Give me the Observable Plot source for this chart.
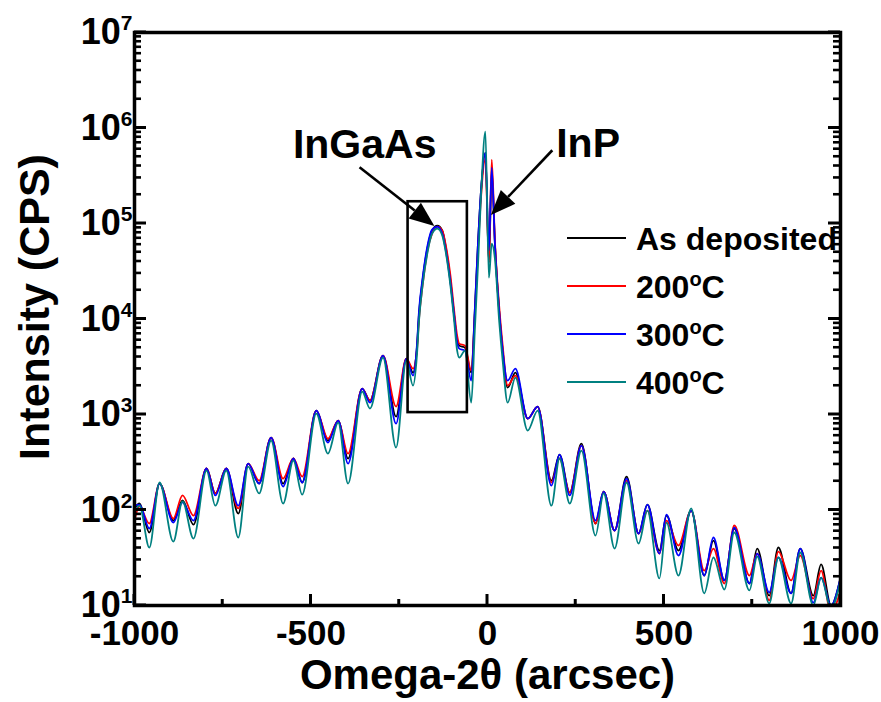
<!DOCTYPE html>
<html><head><meta charset="utf-8">
<script src="https://cdn.jsdelivr.net/npm/d3@7"></script>
<script src="https://cdn.jsdelivr.net/npm/@observablehq/plot@0.6"></script>
<style>
body{margin:0;background:#fff;}
#chart{position:relative;width:881px;height:702px;}
</style>
</head><body><div id="chart"></div>
<script>
// ---- data ----
const xArcsec = [-1000,-986,-958,-929,-890,-864,-833,-796,-771,-740,-706,-678,-647,-613,-579,-550,-525,-485,-452,-423,-395,-355,-333,-296,-259,-230,-211,-200,-194,-184,-170,-157,-142,-128,-118,-105,-95,-86,-80,-64,-46,-36,-27,-19,-6,4,12,21,33,43,57,79,114,142,181,204,233,266,306,329,360,394,428,453,487,507,541,577,614,640,671,699,742,764,798,824,860,886,923,945,973,1000];
const asDeposited = [104,117,58.1,189,77.5,126,70.4,272,149,272,91.8,306,189,573,189,346,194,1099,533,864,346,1867,1398,4134,951,3846,2745,5013,11400,25200,55800,84100,94800,84100,55800,25200,11400,5934,5262,5013,2745,12200,61500,205000,551000,38900,357000,61500,12200,4665,1912,2745,906,1210,203,380,152,496,72.2,156,60.9,224,56.7,114,37.6,87.5,37.6,98.7,20.6,47.9,18.3,64.0,17.0,39.5,12.7,40.5,13.4,39.5,12.7,26.9,10,19.6];
const annealed200 = [77.5,109,72.2,189,81.4,142,87.5,272,149,272,104,306,203,573,213,346,224,1099,559,864,390,1867,1398,4134,1210,3846,3022,4665,10050,22300,51900,78200,92600,84100,58600,28430,12790,6694,5521,5262,2880,10800,51900,173000,477000,38900,465000,66100,13740,5262,2007,2553,906,1210,194,346,152,473,72.2,156,60.9,203,56.7,98.7,35.0,77.5,42.5,98.7,23.2,39.5,17.0,68.8,20.6,35.0,11.3,36.7,18.3,33.4,11.8,23.2,8.47,14.4];
const annealed300 = [111,114,64.0,189,73.9,120,77.5,272,142,272,111,306,189,573,176,346,194,1099,508,864,306,1867,1332,4134,803,3846,2553,5262,12200,26450,58600,86100,92600,78200,51900,24010,11400,5655,4894,4665,2264,12200,61500,205000,551000,51900,384000,61500,12200,4665,2264,3022,906,1210,180,380,142,473,77.5,156,60.9,213,56.7,114,35.0,89.6,33.4,98.7,20.6,51.5,18.3,65.5,17.0,35.0,13.7,31.8,13.4,39.5,10.7,19.6,10,19.6];
const annealed400 = [94.0,111,40.5,194,46.7,123,50.2,259,111,259,51.5,285,149,533,117,329,145,1022,390,823,189,1737,1153,3940,450,3665,2007,4134,9610,22300,49500,78200,88200,74500,49500,22300,10050,4665,3940,4665,1332,7552,36170,173000,914000,27100,61500,42800,9610,3665,1332,2434,679,1099,111,346,117,419,54.0,149,39.5,194,44.6,98.7,19.2,73.9,20.6,104,13.4,31.8,14.7,58.1,14.4,32.6,10.5,31.8,10.5,35.9,10,19.6,9.3,18.3];

const seriesNames = ["As deposited", "200°C", "300°C", "400°C"];
const seriesColors = ["#000000", "#ff0000", "#0000ff", "#008080"];
const seriesValues = [asDeposited, annealed200, annealed300, annealed400];

const yMajorTicks = [1e1, 1e2, 1e3, 1e4, 1e5, 1e6, 1e7];
const yMinorTicks = [];
for (let e = 1; e < 7; e++) for (let k = 2; k <= 9; k++) yMinorTicks.push(k * Math.pow(10, e));
const xMajorTicks = [-1000, -500, 0, 500, 1000];
const xMinorTicks = [-750, -250, 250, 750];

const xTitle = "Omega-2\u03b8 (arcsec)";
const yTitle = "Intensity (CPS)";

// annotations (data coordinates)
const annotationText = ["InGaAs", "InP"];
const annotationX = [-348, 285];
const annotationY = [6.7e5, 6.8e5];
const arrowFromX = [-361, 185];
const arrowFromY = [3.84e5, 5.78e5];
const arrowToX = [-149, 11];
const arrowToY = [9.3e4, 1.21e5];
const boxX1 = [-225], boxX2 = [-57], boxY1 = [1047], boxY2 = [1.69e5];

// ---- build tables ----
const rows = seriesNames.flatMap((name, s) => xArcsec.map((x, i) => ({series: name, x, y: seriesValues[s][i]})));
const labels = annotationText.map((t, i) => ({t, x: annotationX[i], y: annotationY[i]}));
const boxes = boxX1.map((_, i) => ({x1: boxX1[i], x2: boxX2[i], y1: boxY1[i], y2: boxY2[i]}));

const arrowMark = (index, scales) => {
  const g = d3.create("svg:g").attr("aria-label", "arrows");
  annotationText.forEach((_, i) => {
    const x1 = scales.x(arrowFromX[i]), y1 = scales.y(arrowFromY[i]);
    const x2 = scales.x(arrowToX[i]), y2 = scales.y(arrowToY[i]);
    const a = Math.atan2(y2 - y1, x2 - x1);
    const L = 25, W = 10;
    const bx = x2 - L * Math.cos(a), by = y2 - L * Math.sin(a);
    const px = -Math.sin(a) * W, py = Math.cos(a) * W;
    g.append("line").attr("x1", x1).attr("y1", y1).attr("x2", bx).attr("y2", by)
      .attr("stroke", "black").attr("stroke-width", 2.6);
    g.append("path").attr("d", `M${x2},${y2}L${bx + px},${by + py}L${bx - px},${by - py}Z`).attr("fill", "black");
  });
  return g.node();
};

// inward tick marks on left, right and bottom edges, placed with the plot's scales
const tickMark = (index, scales) => {
  const g = d3.create("svg:g").attr("aria-label", "inward ticks");
  const left = scales.x(-1000), right = scales.x(1000), bottom = scales.y(10);
  const line = (x1, y1, x2, y2, w) => g.append("line")
    .attr("x1", x1).attr("y1", y1).attr("x2", x2).attr("y2", y2)
    .attr("stroke", "black").attr("stroke-width", w);
  yMajorTicks.forEach(v => { const y = scales.y(v); line(left, y, left + 12, y, 3); line(right, y, right - 12, y, 3); });
  yMinorTicks.forEach(v => { const y = scales.y(v); line(left, y, left + 7, y, 2.6); line(right, y, right - 7, y, 2.6); });
  xMajorTicks.forEach(v => { const x = scales.x(v); line(x, bottom, x, bottom - 11, 3); });
  xMinorTicks.forEach(v => { const x = scales.x(v); line(x, bottom, x, bottom - 6, 3); });
  return g.node();
};

const font = "'Liberation Sans', Arial, Helvetica, sans-serif";

const plot = Plot.plot({
  width: 881, height: 702,
  marginLeft: 134, marginRight: 41, marginTop: 32, marginBottom: 97,
  style: {fontFamily: font, fontWeight: "bold", background: "#fff", color: "#000", overflow: "visible"},
  x: {domain: [-1000, 1000], label: null},
  y: {type: "log", domain: [10, 1e7], label: null},
  color: {domain: seriesNames, range: seriesColors},
  marks: [
    Plot.line(rows, {x: "x", y: "y", z: "series", stroke: "series", strokeWidth: 1.8, curve: "monotone-x", clip: true}),
    Plot.rect(boxes, {x1: "x1", x2: "x2", y1: "y1", y2: "y2", fill: "none", stroke: "black", strokeWidth: 2.6}),
    Plot.text(labels, {x: "x", y: "y", text: "t", fontSize: 41, fontWeight: "bold", fill: "black"}),
    arrowMark,
    tickMark,
    Plot.frame({stroke: "black", strokeWidth: 3.5}),
    // tick labels
    Plot.axisY(yMajorTicks, {anchor: "left", tickSize: 0, tickPadding: 2, tickFormat: d => "10" + Math.round(Math.log10(d)), fontSize: 36, label: null}),
    Plot.axisX(xMajorTicks, {anchor: "bottom", tickSize: 0, tickPadding: 15, tickFormat: d => String(d), fontSize: 35, label: null}),
    Plot.text([yTitle], {text: d => d, frameAnchor: "left", textAnchor: "middle", lineAnchor: "middle", rotate: -90, dx: -99, dy: -12, fontSize: 43, fontWeight: "bold"}),
    Plot.text([xTitle], {text: d => d, frameAnchor: "bottom", textAnchor: "middle", lineAnchor: "middle", dy: 70, fontSize: 42, fontWeight: "bold"})
  ]
});
document.getElementById("chart").appendChild(plot);

// superscript exponents on y tick labels
const svg = d3.select(plot);
svg.selectAll('g[aria-label="y-axis tick label"] text').each(function() {
  const t = this.textContent;
  if (!t) return;
  const sel = d3.select(this);
  this.textContent = "";
  sel.append("tspan").text(t.slice(0, 2));
  sel.append("tspan").attr("font-size", 21).attr("dy", -14).text(t.slice(2));
});

// legend inside the frame
const legend = svg.append("g").attr("font-family", font).attr("font-weight", "bold").attr("font-size", 32).attr("text-anchor", "start");
const legendRowY = [238, 286, 334, 382];
seriesNames.forEach((name, i) => {
  const y = legendRowY[i];
  legend.append("line").attr("x1", 567).attr("x2", 626).attr("y1", y).attr("y2", y)
    .attr("stroke", seriesColors[i]).attr("stroke-width", 2);
  const tx = legend.append("text").attr("x", 636).attr("y", y).attr("dy", "0.36em").attr("fill", "black").attr("text-anchor", "start");
  if (name.includes("°")) {
    const [num, unit] = name.split("°");
    tx.append("tspan").text(num);
    tx.append("tspan").attr("font-size", 20).attr("dy", -12).text("o");
    tx.append("tspan").attr("dy", 12).text(unit);
  } else {
    tx.text(name);
  }
});
</script></body></html>
